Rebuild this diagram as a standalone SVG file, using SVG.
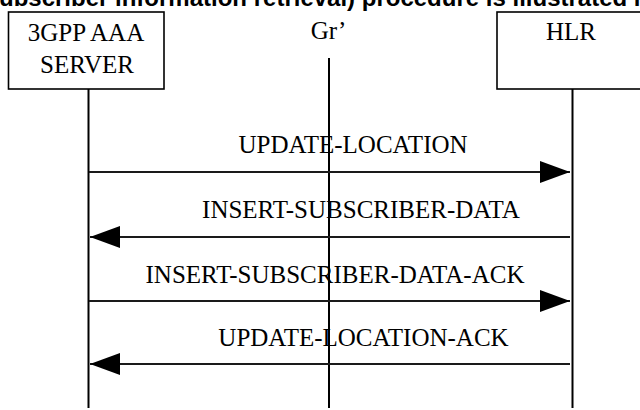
<svg xmlns="http://www.w3.org/2000/svg" width="640" height="410" viewBox="0 0 640 410">
<style>
.box{fill:#fff;stroke:#000;stroke-width:1.6}
.life{stroke:#000;stroke-width:2;fill:none}
.msg{stroke:#1a1a1a;stroke-width:2;fill:none}
.t{font-family:"Liberation Serif","Times New Roman",serif;font-size:25px;fill:#000;text-anchor:middle}
.title{font-family:"Liberation Sans",Arial,sans-serif;font-size:24px;font-weight:bold;fill:#000}
</style>
<defs>
<marker id="ah" markerUnits="userSpaceOnUse" markerWidth="30" markerHeight="22" refX="30" refY="11" orient="auto">
<path d="M0,0 L30,11 L0,22 z" fill="#000"/>
</marker>
</defs>
<rect width="640" height="410" fill="#fff"/>
<text class="title" x="-1" y="6">ubscriber information retrieval) procedure is illustrated in</text>
<g id="node-aaa">
<rect class="box" x="8.5" y="12" width="155.5" height="77"/>
<text class="t" x="86" y="41">3GPP AAA</text>
<text class="t" x="87" y="73">SERVER</text>
<line class="life" x1="88.5" y1="89" x2="88.5" y2="408"/>
</g>
<g id="node-gr">
<text class="t" x="328.5" y="39">Gr’</text>
<line class="life" x1="329" y1="58" x2="329" y2="408"/>
</g>
<g id="node-hlr">
<rect class="box" x="497" y="12" width="152" height="77"/>
<text class="t" x="571" y="40">HLR</text>
<line class="life" x1="572.5" y1="89" x2="572.5" y2="408"/>
</g>
<g id="connectors">
<line class="msg" x1="89" y1="172" x2="570" y2="172" marker-end="url(#ah)"/>
<text class="t" x="353" y="153">UPDATE-LOCATION</text>
<line class="msg" x1="570" y1="237" x2="90" y2="237" marker-end="url(#ah)"/>
<text class="t" x="361" y="218">INSERT-SUBSCRIBER-DATA</text>
<line class="msg" x1="89" y1="301" x2="570" y2="301" marker-end="url(#ah)"/>
<text class="t" x="335" y="283">INSERT-SUBSCRIBER-DATA-ACK</text>
<line class="msg" x1="570" y1="364" x2="90" y2="364" marker-end="url(#ah)"/>
<text class="t" x="363.5" y="346">UPDATE-LOCATION-ACK</text>
</g>
</svg>
